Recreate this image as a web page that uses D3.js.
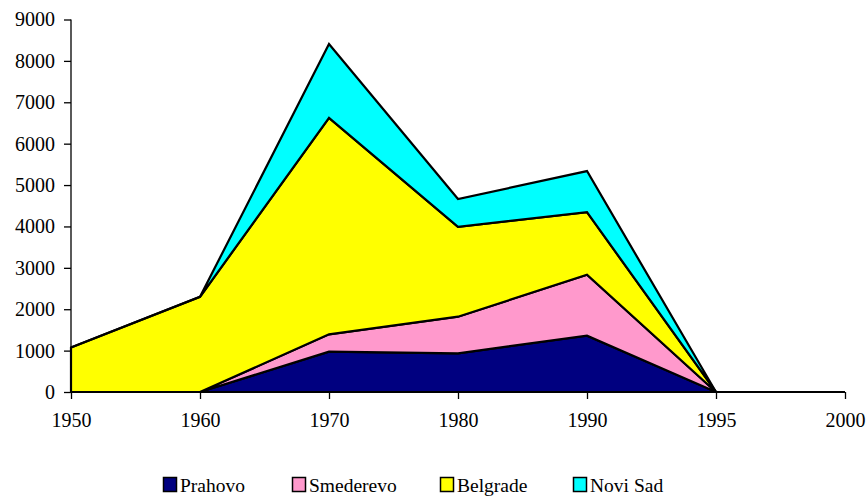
<!DOCTYPE html>
<html>
<head>
<meta charset="utf-8">
<script src="https://cdn.jsdelivr.net/npm/d3@7"></script>
<style>
  html, body { margin: 0; padding: 0; background: #fff; }
  svg { display: block; }
</style>
</head>
<body>
<svg id="chart" width="868" height="497"></svg>
<script>
// Years on the category axis
const years = ["1950", "1960", "1970", "1980", "1990", "1995", "2000"];

// Stacked series, bottom to top
const prahovo   = [0, 0, 975, 935, 1360, 0, 0];
const smederevo = [0, 0, 418, 884, 1473, 0, 0];
const belgrade  = [1075, 2300, 5232, 2174, 1512, 0, 0];
const noviSad   = [0, 0, 1781, 669, 993, 0, 0];

const seriesNames  = ["Prahovo", "Smederevo", "Belgrade", "Novi Sad"];
const seriesColors = ["#000080", "#FF99CC", "#FFFF00", "#00FFFF"];
const yTicks = [0, 1000, 2000, 3000, 4000, 5000, 6000, 7000, 8000, 9000];

const serif = "'Liberation Serif', 'Times New Roman', serif";
const svg = d3.select("#chart");
const plotLeft = 71, plotRight = 845, plotTop = 19.5, plotBottom = 392;

const rows = years.map((yr, i) => ({
  year: yr,
  "Prahovo": prahovo[i],
  "Smederevo": smederevo[i],
  "Belgrade": belgrade[i],
  "Novi Sad": noviSad[i]
}));

const x = d3.scalePoint().domain(years).range([plotLeft, plotRight]);
const y = d3.scaleLinear().domain([0, 9000]).range([plotBottom, plotTop]);

const layers = d3.stack().keys(seriesNames)(rows);

const area = d3.area()
  .x(d => x(d.data.year))
  .y0(d => y(d[0]))
  .y1(d => y(d[1]));

svg.append("g")
  .selectAll("path")
  .data(layers)
  .join("path")
  .attr("d", area)
  .attr("fill", (d, i) => seriesColors[i])
  .attr("stroke", "#000")
  .attr("stroke-width", 2.2)
  .attr("stroke-linejoin", "miter");

// Y axis
const yAxis = svg.append("g")
  .attr("transform", `translate(${plotLeft},0)`)
  .call(d3.axisLeft(y).tickValues(yTicks).tickSize(7).tickPadding(9).tickFormat(d3.format("d")));
yAxis.select(".domain").attr("stroke", "#000").attr("stroke-width", 1.3).attr("d", `M0,${plotTop}V${plotBottom}`);
yAxis.selectAll(".tick line").attr("stroke", "#000").attr("stroke-width", 1.3);
yAxis.selectAll("text")
  .style("font-family", serif)
  .style("font-size", "20px")
  .attr("fill", "#000");

// X axis
const xAxis = svg.append("g")
  .attr("transform", `translate(0,${plotBottom})`)
  .call(d3.axisBottom(x).tickSize(7).tickPadding(14));
xAxis.select(".domain").attr("stroke", "#000").attr("stroke-width", 1.3).attr("d", `M${plotLeft},0H${plotRight}`);
xAxis.selectAll(".tick line").attr("stroke", "#000").attr("stroke-width", 1.3);
xAxis.selectAll("text")
  .style("font-family", serif)
  .style("font-size", "20px")
  .attr("fill", "#000");

// Legend
const legendX = [163, 292, 440, 573];
const legend = svg.append("g");
seriesNames.forEach((name, i) => {
  const g = legend.append("g").attr("transform", `translate(${legendX[i]},477)`);
  g.append("rect")
    .attr("x", 0.5).attr("y", 0.5)
    .attr("width", 13).attr("height", 14)
    .attr("fill", seriesColors[i])
    .attr("stroke", "#000")
    .attr("stroke-width", 1.5);
  g.append("text")
    .attr("x", 17).attr("y", 15)
    .style("font-family", serif)
    .style("font-size", "19.5px")
    .attr("fill", "#000")
    .text(name);
});
</script>
</body>
</html>
